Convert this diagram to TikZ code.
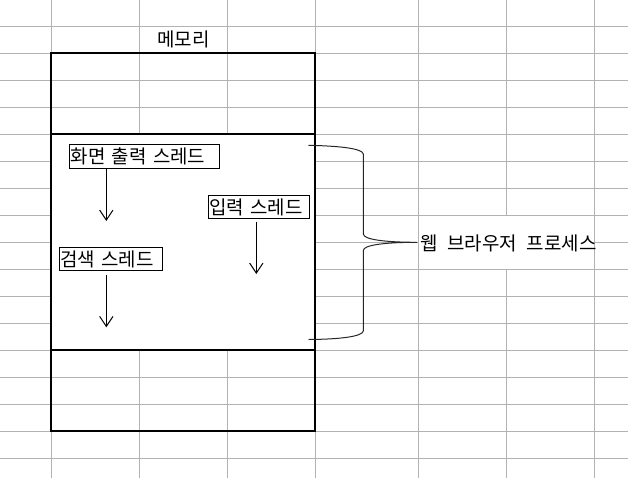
\documentclass[tikz,border=0pt]{standalone}
\usepackage{fontspec}
\setmainfont[WordSpace=2.3]{Noto Sans CJK KR}
\usetikzlibrary{arrows.meta,calc}
\definecolor{gridc}{RGB}{178,178,178}
\tikzset{
  gridline/.style={draw=gridc,line width=0.75pt},
  memline/.style={draw=black,line width=1.6pt},
  kfont/.style={font=\fontsize{14.2pt}{16pt}\selectfont},
  threadbox/.style={kfont,draw=black,line width=0.75pt,fill=white,inner xsep=0.6pt,inner ysep=0pt,align=left,anchor=center},
  flow/.style={-{Straight Barb[length=7.5pt,width=10pt]},line width=0.75pt},
  bracel/.style={draw=black!85,line width=0.75pt},
  plain/.style={kfont,inner sep=0pt},
}
\begin{document}
\begin{tikzpicture}[x=0.75pt,y=-0.75pt]
\useasboundingbox (0,0) rectangle (628,478);
\fill[white] (0,0) rectangle (628,478);
% spreadsheet grid
\foreach \gx in {51.3,139.3,227.7,315.3,418.3,506.3,594.7}
  \draw[gridline] (\gx,0) -- (\gx,478);
\foreach \k in {0,...,16}
  \draw[gridline] (0,26.3+27*\k) -- (628,26.3+27*\k);
% merged label cell
\fill[white] (418.9,215.9) rectangle (594.1,268.7);
% memory block
\coordinate (memNW) at (51.3,53.3);
\coordinate (memSE) at (315.3,431);
\fill[white] (51.3,134) rectangle (315.3,350);
\draw[memline] (memNW) rectangle (memSE);
\coordinate (d1w) at (51.3,134);
\coordinate (d1e) at (315.3,134);
\coordinate (d2w) at (51.3,350);
\coordinate (d2e) at (315.3,350);
\draw[memline] (d1w) -- (d1e);
\draw[memline] (d2w) -- (d2e);
\node[plain] (title) at (183.5,39.5) {메모리};
% threads
\node[threadbox,text width=110.8pt,minimum height=17.5pt] (scr) at (144.65,156.65) {화면 출력 스레드};
\node[threadbox,text width=74.8pt,minimum height=17.25pt] (inp) at (259,207.2) {입력 스레드};
\node[threadbox,text width=76pt,minimum height=17.55pt] (sea) at (110.8,259) {검색 스레드};
\coordinate (a1e) at (106.3,221);
\coordinate (a2e) at (256.3,274);
\coordinate (a3e) at (106.3,327.3);
\draw[flow] (scr.south -| a1e) -- (a1e);
\draw[flow] ($(inp.south -| a2e)+(0,2.3)$) -- (a2e);
\draw[flow] ($(sea.south -| a3e)+(0,3.3)$) -- (a3e);
% brace and label
\node[plain,anchor=west] (web) at (420,243) {웹 브라우저 프로세스};
\coordinate (bt) at (308.5,145.3);
\coordinate (bb) at (308.5,339.5);
\coordinate (btip) at (417,242.3);
\draw[bracel] (bt) .. controls (340,146) and (362.5,148.5) .. (363.3,154)
  -- (363.3,234) .. controls (363.3,239.5) and (385,242.3) .. (btip)
  .. controls (385,242.3) and (363.3,245) .. (363.3,250.5)
  -- (363.3,331) .. controls (362.5,336.5) and (340,339.3) .. (bb);
\end{tikzpicture}
\end{document}
